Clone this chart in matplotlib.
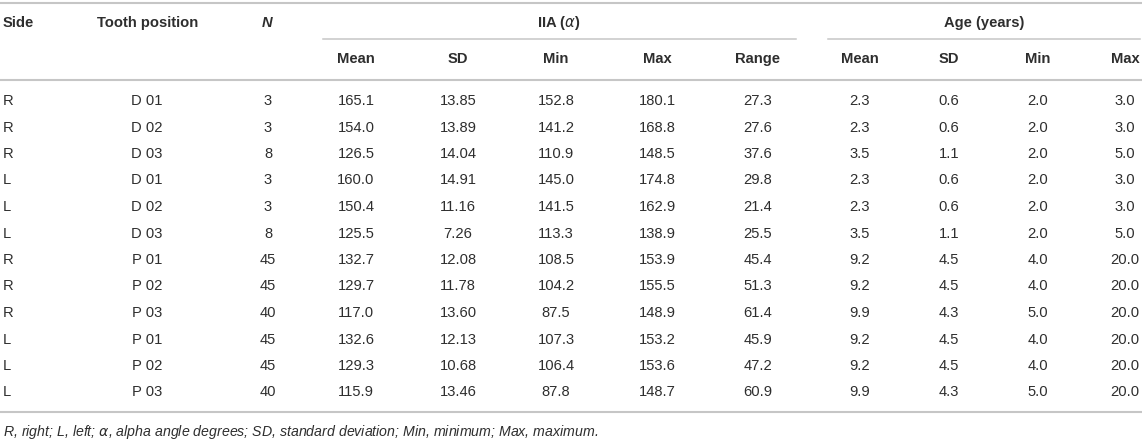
import matplotlib
matplotlib.use("Agg")
import matplotlib.pyplot as plt

plt.rcParams['font.family'] = ['Liberation Sans', 'DejaVu Sans']

# table data
side = ['R', 'R', 'R', 'L', 'L', 'L', 'R', 'R', 'R', 'L', 'L', 'L']
tooth = ['D 01', 'D 02', 'D 03', 'D 01', 'D 02', 'D 03',
         'P 01', 'P 02', 'P 03', 'P 01', 'P 02', 'P 03']
n = ['3', '3', '8', '3', '3', '8', '45', '45', '40', '45', '45', '40']
iia_mean = ['165.1', '154.0', '126.5', '160.0', '150.4', '125.5',
            '132.7', '129.7', '117.0', '132.6', '129.3', '115.9']
iia_sd = ['13.85', '13.89', '14.04', '14.91', '11.16', '7.26',
          '12.08', '11.78', '13.60', '12.13', '10.68', '13.46']
iia_min = ['152.8', '141.2', '110.9', '145.0', '141.5', '113.3',
           '108.5', '104.2', '87.5', '107.3', '106.4', '87.8']
iia_max = ['180.1', '168.8', '148.5', '174.8', '162.9', '138.9',
           '153.9', '155.5', '148.9', '153.2', '153.6', '148.7']
iia_range = ['27.3', '27.6', '37.6', '29.8', '21.4', '25.5',
             '45.4', '51.3', '61.4', '45.9', '47.2', '60.9']
age_mean = ['2.3', '2.3', '3.5', '2.3', '2.3', '3.5',
            '9.2', '9.2', '9.9', '9.2', '9.2', '9.9']
age_sd = ['0.6', '0.6', '1.1', '0.6', '0.6', '1.1',
          '4.5', '4.5', '4.3', '4.5', '4.5', '4.3']
age_min = ['2.0', '2.0', '2.0', '2.0', '2.0', '2.0',
           '4.0', '4.0', '5.0', '4.0', '4.0', '5.0']
age_max = ['3.0', '3.0', '5.0', '3.0', '3.0', '5.0',
           '20.0', '20.0', '20.0', '20.0', '20.0', '20.0']
sub_headers = ['Mean', 'SD', 'Min', 'Max', 'Range', 'Mean', 'SD', 'Min', 'Max']
footnote = ('R, right; L, left; $\\alpha$, alpha angle degrees; SD, standard deviation; '
            'Min, minimum; Max, maximum.')

W, H = 1142, 442
fig = plt.figure(figsize=(W / 100, H / 100), dpi=100)
ax = fig.add_axes([0, 0, 1, 1])
ax.set_xlim(0, W)
ax.set_ylim(H, 0)
ax.axis('off')

txt = '#2e2e2e'
line_c = '#c6c6c6'
fs = 10.6

# column centres (pixels)
col_x = [356, 458, 556, 657, 758, 860, 949, 1038, 1125]
cols = [iia_mean, iia_sd, iia_min, iia_max, iia_range,
        age_mean, age_sd, age_min, age_max]

# rules
ax.plot([0, W], [3, 3], color=line_c, lw=1.5)
ax.plot([323, 796], [39, 39], color=line_c, lw=1.1)
ax.plot([828, 1140], [39, 39], color=line_c, lw=1.1)
ax.plot([0, W], [80, 80], color=line_c, lw=1.5)
ax.plot([0, W], [411.5, 411.5], color=line_c, lw=1.5)

# headers
hy1, hy2 = 23, 59
bold = dict(va='center', fontsize=fs, fontweight='bold', color=txt)
ax.text(3, hy1, 'Side', ha='left', **bold)
ax.text(148, hy1, 'Tooth position', ha='center', **bold)
ax.text(267, hy1, 'N', ha='center', fontstyle='italic', **bold)
ax.text(559, hy1, 'IIA ($\\alpha$)', ha='center', **bold)
ax.text(984, hy1, 'Age (years)', ha='center', **bold)
for x, h in zip(col_x, sub_headers):
    ax.text(x, hy2, h, ha='center', **bold)

# body
y0, dy = 101, 26.5
for i in range(len(side)):
    y = y0 + i * dy
    ax.text(3, y, side[i], ha='left', va='center', fontsize=fs, color=txt)
    ax.text(147, y, tooth[i], ha='center', va='center', fontsize=fs, color=txt)
    ax.text(268, y, n[i], ha='center', va='center', fontsize=fs, color=txt)
    for x, c in zip(col_x, cols):
        ax.text(x, y, c[i], ha='center', va='center', fontsize=fs, color=txt)

ax.text(3, 432, footnote, ha='left', va='center', fontsize=fs * 0.96,
        fontstyle='italic', color=txt)

fig.savefig('out.png', dpi=100)
